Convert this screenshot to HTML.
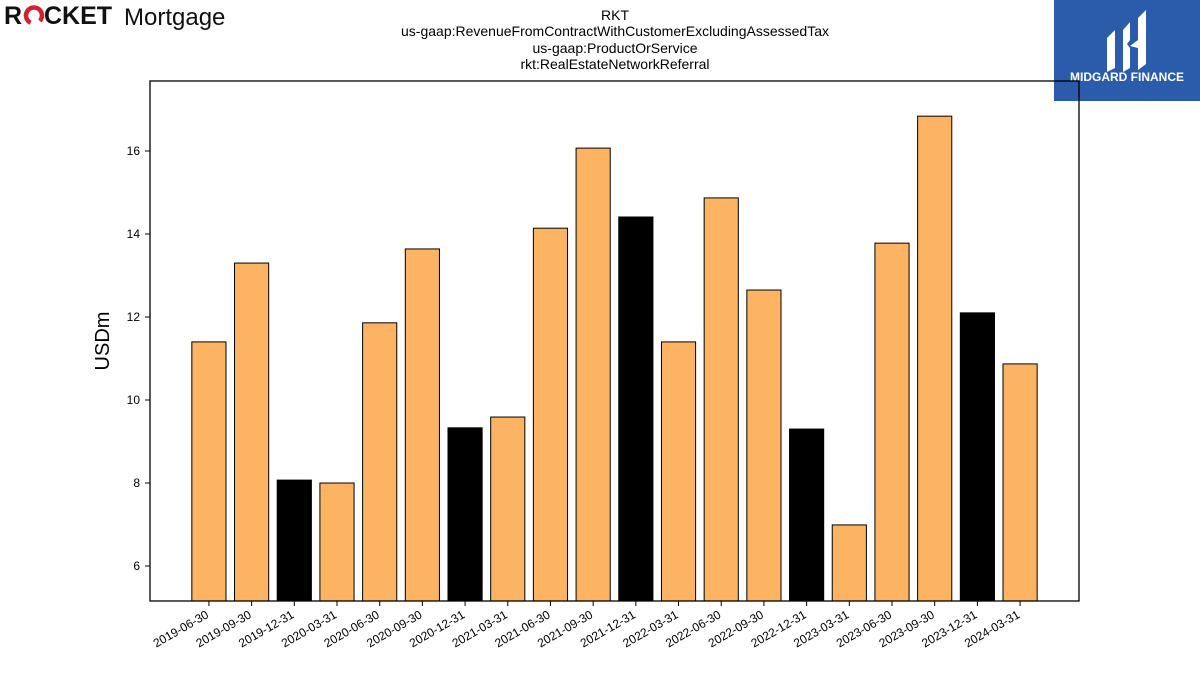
<!DOCTYPE html>
<html><head><meta charset="utf-8"><style>
body{margin:0;width:1200px;height:675px;background:#fff;overflow:hidden;font-family:"Liberation Sans","DejaVu Sans",sans-serif}
</style></head><body>
<svg width="1200" height="675" xmlns="http://www.w3.org/2000/svg">
<g>
<text x="4" y="24" font-size="25" font-weight="bold" fill="#111" font-family="Liberation Sans, sans-serif">R</text>
<circle cx="34" cy="15.5" r="8" fill="none" stroke="#d4202f" stroke-width="4.5" stroke-dasharray="40 10.3" transform="rotate(115 34 15.5)"/>
<text x="44" y="24" font-size="25" font-weight="bold" fill="#111">CKET</text>
<text x="124" y="25" font-size="24" fill="#111">Mortgage</text>
</g>
<g font-size="14" text-anchor="middle" fill="#000">
<text x="615" y="20">RKT</text>
<text x="615" y="36">us-gaap:RevenueFromContractWithCustomerExcludingAssessedTax</text>
<text x="615" y="53">us-gaap:ProductOrService</text>
<text x="615" y="69">rkt:RealEstateNetworkReferral</text>
</g>
<g>
<rect x="1054" y="0" width="146" height="101" fill="#2b5bab"/>
<path d="M1107 38 l8 -8 v38 l-8 4z M1123 30 l7 -8 v18 l-3 4 l3 4 v20 l-7 4z M1138 18 l8 -8 v54 l-8 6z M1130 46 l8 -6 v8z" fill="#fff"/>
<text x="1127" y="81" font-size="12" font-weight="bold" fill="#fff" text-anchor="middle">MIDGARD FINANCE</text>
</g>
<g id="plot"></g>
<text transform="translate(109 341) rotate(-90)" font-size="20" text-anchor="middle">USDm</text>
</svg>
<script>
const categories=["2019-06-30","2019-09-30","2019-12-31","2020-03-31","2020-06-30","2020-09-30","2020-12-31","2021-03-31","2021-06-30","2021-09-30","2021-12-31","2022-03-31","2022-06-30","2022-09-30","2022-12-31","2023-03-31","2023-06-30","2023-09-30","2023-12-31","2024-03-31"];
const values=[11.40,13.30,8.07,8.00,11.86,13.64,9.33,9.59,14.14,16.07,14.41,11.40,14.87,12.65,9.30,6.99,13.78,16.84,12.10,10.87];
const isQ4=[0,0,1,0,0,0,1,0,0,0,1,0,0,0,1,0,0,0,1,0];
const yTicks=[6,8,10,12,14,16];
const L=150,R=1079,T=81,B=601,yMin=5.157,yMax=17.687;
const y=v=>B-(v-yMin)/(yMax-yMin)*(B-T);
const step=(R-L)/(categories.length-1+2*1.38);
const x=i=>L+step*1.38+i*step;
const bw=step*0.8;
const g=document.getElementById('plot');
const NS="http://www.w3.org/2000/svg";
function mk(t,a){const e=document.createElementNS(NS,t);for(const k in a)e.setAttribute(k,a[k]);g.appendChild(e);return e;}
values.forEach((v,i)=>{
const r=mk('rect',{x:x(i)-bw/2,y:y(v),width:bw,height:B-y(v),fill:isQ4[i]?'#000':'#fdb462',stroke:'#000','stroke-width':1});


const tk=mk('line',{x1:x(i),x2:x(i),y1:B,y2:B+5,stroke:'#000'});


const t=mk('text',{x:x(i),y:B+14,'font-size':12,'text-anchor':'end',transform:`rotate(-30 ${x(i)+4} ${B+14})`});
t.textContent=categories[i];


});
yTicks.forEach(v=>{
const tk=mk('line',{x1:L-5,x2:L,y1:y(v),y2:y(v),stroke:'#000'});


const t=mk('text',{x:L-10,y:y(v)+4,'font-size':12,'text-anchor':'end'});
t.textContent=v;


});
const f=mk('rect',{x:L,y:T,width:R-L,height:B-T,fill:'none',stroke:'#000','stroke-width':1.3});


</script>
</body></html>
